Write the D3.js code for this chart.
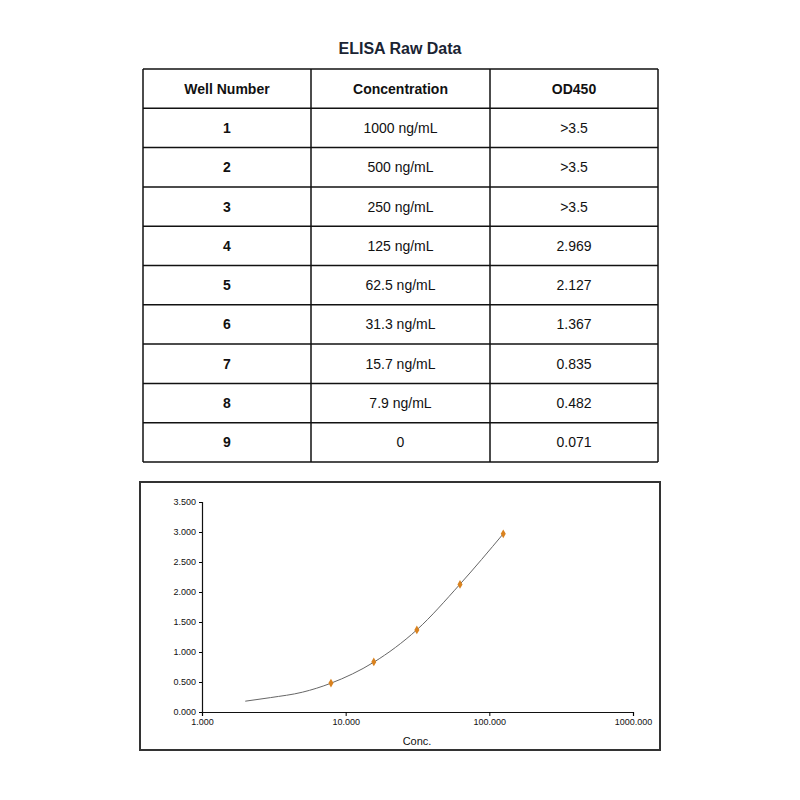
<!DOCTYPE html>
<html><head><meta charset="utf-8">
<script src="https://cdn.jsdelivr.net/npm/d3@7"></script>
<style>body{margin:0;background:#fff;font-family:"Liberation Sans",Arial,sans-serif}</style>
</head><body><svg id="c" width="800" height="800"></svg>
<script>
const headers = ["Well Number","Concentration","OD450"];
const wells = ["1","2","3","4","5","6","7","8","9"];
const concLabels = ["1000 ng/mL","500 ng/mL","250 ng/mL","125 ng/mL","62.5 ng/mL","31.3 ng/mL","15.7 ng/mL","7.9 ng/mL","0"];
const odLabels = [">3.5",">3.5",">3.5","2.969","2.127","1.367","0.835","0.482","0.071"];
const pointConc = [7.9,15.7,31.3,62.5,125];
const pointOD = [0.482,0.835,1.367,2.127,2.969];
const fitConc = [2,3,5,7.9,15.7,31.3,62.5,125];
const fitOD = [0.18,0.24,0.33,0.48,0.83,1.37,2.13,2.97];
const yTicks = [0,0.5,1,1.5,2,2.5,3,3.5];
const xTicks = [1,10,100,1000];

const svg = d3.select("#c");
svg.append("text").attr("x",400).attr("y",54).attr("text-anchor","middle")
  .attr("font-size",16).attr("font-weight","bold").attr("fill","#1a2433").text("ELISA Raw Data");

const colX = d3.scaleOrdinal().domain([0,1,2,3]).range([143,311,490,658]);
const rowY = d3.scaleLinear().domain([0,10]).range([69,462]);
const g = svg.append("g");
const colsEdges=[0,1,2,3].map(i=>colX(i));
d3.range(11).forEach(r=>g.append("line").attr("x1",143).attr("x2",658).attr("y1",rowY(r)).attr("y2",rowY(r)).attr("stroke","#111").attr("stroke-width",1.5));
colsEdges.forEach(x=>g.append("line").attr("x1",x).attr("x2",x).attr("y1",69).attr("y2",462).attr("stroke","#111").attr("stroke-width",1.5));
const rows=[headers].concat(wells.map((w,i)=>[w,concLabels[i],odLabels[i]]));
rows.forEach((row,r)=>row.forEach((t,c)=>{
  g.append("text").attr("x",(colX(c)+colX(c+1))/2).attr("y",(rowY(r)+rowY(r+1))/2+5)
   .attr("text-anchor","middle").attr("font-size",14)
   .attr("font-weight",(r===0||c===0)?"bold":"normal").attr("fill","#111").text(t);
}));

svg.append("rect").attr("x",140).attr("y",482).attr("width",520).attr("height",268)
  .attr("fill","#fff").attr("stroke","#333").attr("stroke-width",2);
const x=d3.scaleLog().domain([1,1000]).range([202,633]);
const y=d3.scaleLinear().domain([0,3.5]).range([712,502]);
const fmt=d3.format(".3f");
const xa=svg.append("g").attr("transform","translate(0,712)").call(d3.axisBottom(x).tickValues(xTicks).tickFormat(fmt).tickSize(4));
const ya=svg.append("g").attr("transform","translate(202,0)").call(d3.axisLeft(y).tickValues(yTicks).tickFormat(fmt).tickSize(3));
[xa,ya].forEach(a=>{a.selectAll("text").attr("font-size",9).attr("fill","#111");a.select(".domain").attr("stroke","#111").attr("stroke-width",1.2);});
svg.append("text").attr("x",417).attr("y",745).attr("text-anchor","middle").attr("font-size",11).attr("fill","#111").text("Conc.");
const line=d3.line().x((d,i)=>x(fitConc[i])).y(d=>y(d)).curve(d3.curveMonotoneX);
svg.append("path").attr("d",line(fitOD)).attr("fill","none").attr("stroke","#666").attr("stroke-width",1);
svg.selectAll(".pt").data(pointOD).join("path").attr("class","pt")
  .attr("transform",(d,i)=>`translate(${x(pointConc[i])},${y(d)})`)
  .attr("d",d3.symbol(d3.symbolDiamond,22)).attr("fill","#d9821f");
</script></body></html>
